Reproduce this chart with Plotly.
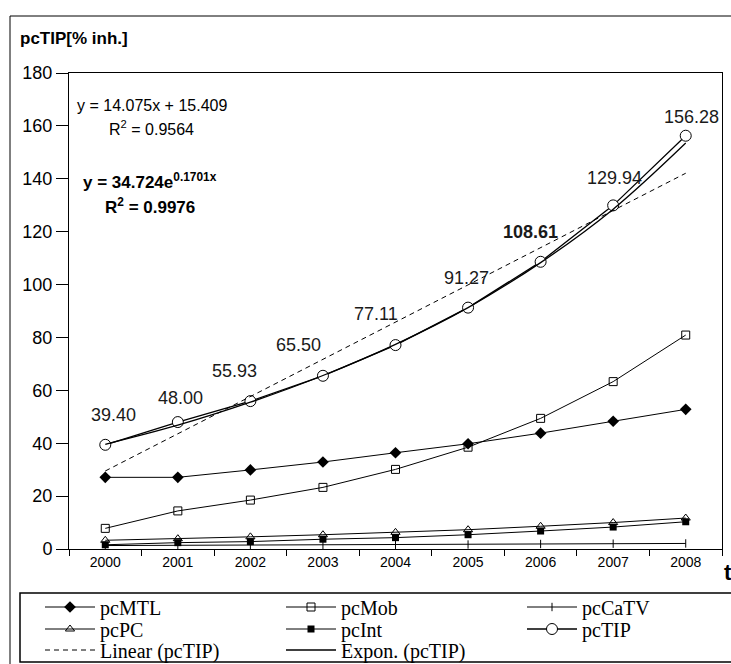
import plotly.graph_objects as go

# ---- data -------------------------------------------------------------
years = ["2000", "2001", "2002", "2003", "2004", "2005", "2006", "2007", "2008"]

pcMTL = [27.1, 27.1, 29.9, 32.9, 36.4, 39.8, 43.8, 48.3, 52.8]
pcMob = [7.8, 14.4, 18.5, 23.3, 30.1, 38.5, 49.4, 63.3, 80.9]
pcCaTV = [1.3, 1.4, 1.4, 1.5, 1.6, 1.7, 1.9, 2.0, 2.1]
pcPC = [3.3, 3.9, 4.6, 5.4, 6.3, 7.3, 8.6, 10.0, 11.7]
pcInt = [1.6, 2.4, 2.8, 3.7, 4.3, 5.4, 6.8, 8.3, 10.3]
pcTIP = [39.40, 48.00, 55.93, 65.50, 77.11, 91.27, 108.61, 129.94, 156.28]

# trend lines for pcTIP
linear_years = ["2000", "2008"]
linear_trend = [29.5, 142.1]
expon_trend = [39.6, 46.8, 55.5, 65.6, 77.4, 91.3, 108.3, 128.5, 153.5]

y_ticks = [0, 20, 40, 60, 80, 100, 120, 140, 160, 180]

eq_linear = "y = 14.075x + 15.409"
r2_linear = "R<sup>2</sup> = 0.9564"
eq_expon = "<b>y = 34.724e<sup>0.1701x</sup></b>"
r2_expon = "<b>R<sup>2</sup> = 0.9976</b>"

# ---- styling ----------------------------------------------------------
SANS = "Liberation Sans, Arial, sans-serif"
SERIF = "Liberation Serif, Times New Roman, serif"
W, H = 731, 664
L, R, T, B = 69, 9, 73, 115
PW, PH = W - L - R, H - T - B


def px(xp):
    return (xp - L) / PW


def py(yp):
    return (H - B - yp) / PH


fig = go.Figure()

line_kw = dict(color="black", width=1)

fig.add_trace(go.Scatter(x=years, y=pcMTL, name="pcMTL", mode="lines+markers",
                         line=line_kw, legend="legend",
                         marker=dict(symbol="diamond", size=9, color="black")))
fig.add_trace(go.Scatter(x=years, y=pcMob, name="pcMob", mode="lines+markers",
                         line=line_kw, legend="legend",
                         marker=dict(symbol="square-open", size=8, color="black",
                                     line=dict(width=1))))
fig.add_trace(go.Scatter(x=years, y=pcCaTV, name="pcCaTV", mode="lines+markers",
                         line=line_kw, legend="legend",
                         marker=dict(symbol="line-ns", size=6, color="black",
                                     line=dict(width=1, color="black"))))
fig.add_trace(go.Scatter(x=years, y=pcPC, name="pcPC", mode="lines+markers",
                         line=line_kw, legend="legend2",
                         marker=dict(symbol="triangle-up-open", size=8, color="black",
                                     line=dict(width=1))))
fig.add_trace(go.Scatter(x=years, y=pcInt, name="pcInt", mode="lines+markers",
                         line=line_kw, legend="legend2",
                         marker=dict(symbol="square", size=7, color="black")))
fig.add_trace(go.Scatter(x=years, y=pcTIP, name="pcTIP", mode="lines+markers",
                         line=dict(color="black", width=1.3), legend="legend2",
                         marker=dict(symbol="circle", size=11, color="white",
                                     line=dict(width=1, color="black"))))
fig.add_trace(go.Scatter(x=linear_years, y=linear_trend, name="Linear (pcTIP)",
                         mode="lines", legend="legend3",
                         line=dict(color="black", width=1, dash="5px,4px")))
fig.add_trace(go.Scatter(x=years, y=expon_trend, name="Expon. (pcTIP)",
                         mode="lines", line_shape="spline", legend="legend3",
                         line=dict(color="black", width=1.3)))

# value labels above the pcTIP points (pixel offsets, bold on 2006)
label_shift = [(8, 30), (3, 24), (-16, 30), (-24, 31), (-20, 31),
               (-2, 30), (-10, 30), (1, 27), (6, 19)]
for i, (yr, v) in enumerate(zip(years, pcTIP)):
    dx, dy = label_shift[i]
    txt = f"{v:.2f}"
    if yr == "2006":
        txt = f"<b>{txt}</b>"
    fig.add_annotation(x=i, y=v, xref="x", yref="y", text=txt,
                       showarrow=False, xshift=dx, yshift=dy,
                       font=dict(family=SANS, size=18, color="#1a1a1a"))

# trend equations
fig.add_annotation(x=px(75), y=py(106), xref="paper", yref="paper", text=eq_linear,
                   showarrow=False, xanchor="left", yanchor="middle",
                   font=dict(family=SANS, size=16, color="black"))
fig.add_annotation(x=px(151), y=py(128), xref="paper", yref="paper", text=r2_linear,
                   showarrow=False, xanchor="center", yanchor="middle",
                   font=dict(family=SANS, size=16, color="black"))
fig.add_annotation(x=px(150), y=py(181), xref="paper", yref="paper", text=eq_expon,
                   showarrow=False, xanchor="center", yanchor="middle",
                   font=dict(family=SANS, size=17, color="black"))
fig.add_annotation(x=px(150), y=py(206), xref="paper", yref="paper", text=r2_expon,
                   showarrow=False, xanchor="center", yanchor="middle",
                   font=dict(family=SANS, size=17, color="black"))

# axis titles
fig.add_annotation(x=px(18), y=py(38), xref="paper", yref="paper",
                   text="<b>pcTIP[% inh.]</b>", showarrow=False,
                   xanchor="left", yanchor="middle",
                   font=dict(family=SANS, size=17, color="black"))
fig.add_annotation(x=px(722), y=py(572), xref="paper", yref="paper",
                   text="<b>t</b>", showarrow=False,
                   xanchor="left", yanchor="middle",
                   font=dict(family=SANS, size=22, color="black"))

# chart frame and legend frame
fig.add_shape(type="rect", xref="paper", yref="paper",
              x0=px(10), x1=px(760), y0=py(16), y1=py(700),
              line=dict(color="black", width=1), fillcolor="rgba(0,0,0,0)",
              layer="below")
fig.add_shape(type="rect", xref="paper", yref="paper",
              x0=px(20), x1=px(760), y0=py(593), y1=py(662),
              line=dict(color="black", width=1.5), fillcolor="rgba(0,0,0,0)")


def legend_row(y_center):
    return dict(orientation="h", x=px(40), y=py(y_center),
                xanchor="left", yanchor="middle",
                entrywidth=176, entrywidthmode="pixels", itemwidth=50,
                font=dict(family=SERIF, size=20, color="black"),
                bgcolor="rgba(0,0,0,0)", borderwidth=0, traceorder="normal")


fig.update_layout(
    width=W, height=H,
    margin=dict(l=L, r=R, t=T, b=B, pad=0, autoexpand=False),
    paper_bgcolor="white", plot_bgcolor="white",
    showlegend=True,
    legend=legend_row(607),
    legend2=legend_row(629),
    legend3=legend_row(650),
    xaxis=dict(type="category", categoryorder="array", categoryarray=years,
               range=[-0.5, 8.5], showgrid=False, zeroline=False,
               showline=True, linecolor="black", linewidth=1, mirror=True,
               ticks="outside", ticklen=6, tickcolor="black", tickson="boundaries",
               tickfont=dict(family=SANS, size=14, color="black")),
    yaxis=dict(range=[0, 180], tickvals=y_ticks, showgrid=False, zeroline=False,
               showline=True, linecolor="black", linewidth=1, mirror=True,
               ticks="outside", ticklen=12, tickcolor="black",
               tickfont=dict(family=SANS, size=18, color="black")),
)

fig.write_html("out.html")
